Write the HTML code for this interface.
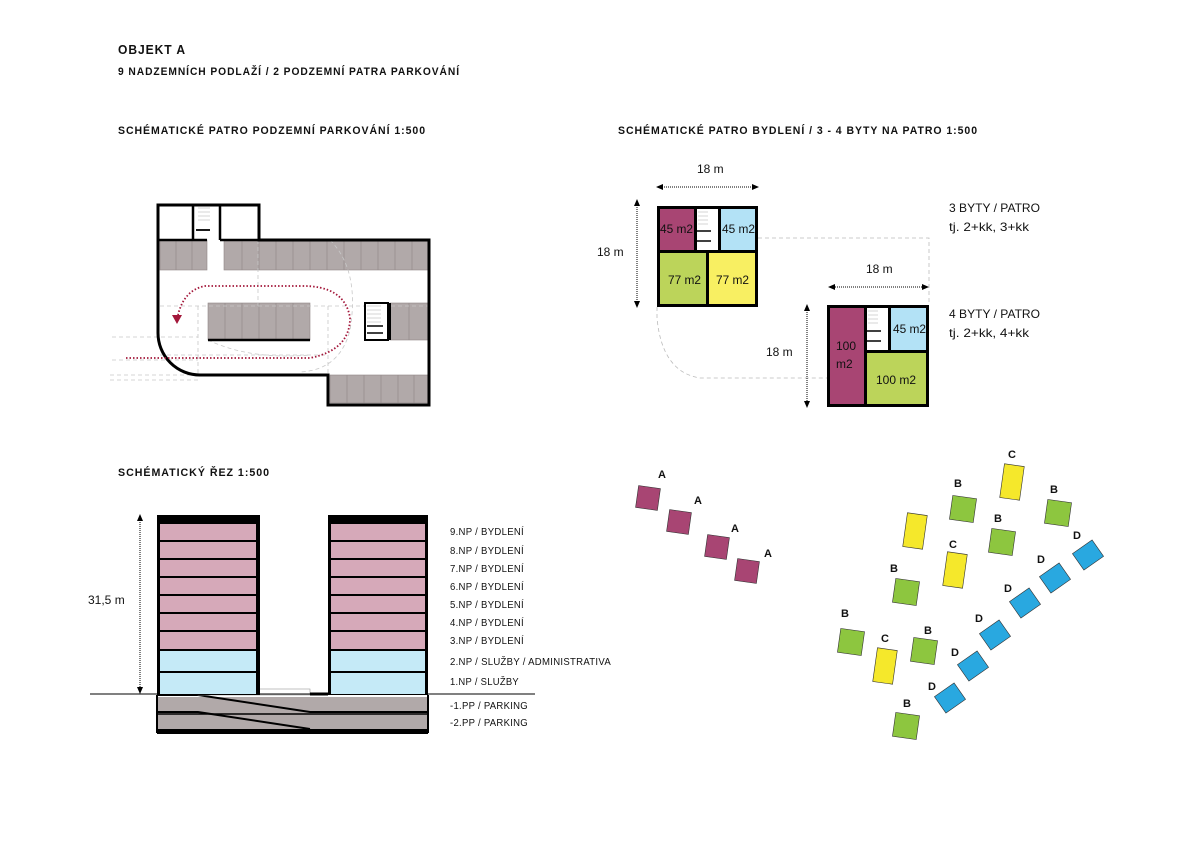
<!DOCTYPE html>
<html><head><meta charset="utf-8"><style>
body{margin:0;background:#fff}
svg{display:block}
text{font-family:"Liberation Sans Narrow","Liberation Sans",sans-serif;fill:#111}
.t{font-weight:bold;font-size:11px;letter-spacing:1px}
.l{font-size:10px;letter-spacing:.3px}
.m{font-size:12px}
.s{font-family:"Liberation Sans",sans-serif;font-weight:bold;font-size:11px}
</style></head><body>
<svg width="1191" height="842" viewBox="0 0 1191 842" xmlns="http://www.w3.org/2000/svg">
<rect width="1191" height="842" fill="#fff"/>
<!-- titles -->
<text class="t" x="118" y="54" textLength="68" lengthAdjust="spacingAndGlyphs" style="font-size:13px">OBJEKT A</text>
<text class="t" x="118" y="75" textLength="342" lengthAdjust="spacingAndGlyphs">9 NADZEMNÍCH PODLAŽÍ / 2 PODZEMNÍ PATRA PARKOVÁNÍ</text>
<text class="t" x="118" y="134" textLength="308" lengthAdjust="spacingAndGlyphs">SCHÉMATICKÉ PATRO PODZEMNÍ PARKOVÁNÍ   1:500</text>
<text class="t" x="618" y="134" textLength="360" lengthAdjust="spacingAndGlyphs">SCHÉMATICKÉ PATRO BYDLENÍ / 3 - 4 BYTY NA PATRO   1:500</text>
<text class="t" x="118" y="476" textLength="152" lengthAdjust="spacingAndGlyphs">SCHÉMATICKÝ ŘEZ   1:500</text>

<!-- parking plan -->
<g fill="#b1a9a9" stroke="#8f8787" stroke-width="0.6">
<rect x="160" y="240" width="47" height="30"/>
<rect x="224" y="240" width="204" height="30"/>
<rect x="208" y="303" width="102" height="37"/>
<rect x="390" y="303" width="38" height="37"/>
<rect x="330" y="375" width="98" height="28"/>
</g>
<g stroke="#8f8787" stroke-width="0.6">
<path d="M176 240v30M192 240v30M242 240v30M259 240v30M276 240v30M293 240v30M310 240v30M327 240v30M344 240v30M361 240v30M378 240v30M395 240v30M412 240v30"/>
<path d="M225 303v37M242 303v37M259 303v37M276 303v37M293 303v37M409 303v37"/>
<path d="M347 375v28M364 375v28M381 375v28M398 375v28M414 375v28"/>
</g>
<g stroke="#c8c8c8" stroke-width="0.8" stroke-dasharray="4,3" fill="none">
<path d="M112 337H198M112 360H198M110 375H210M110 380H200"/>
<path d="M160 306H428M160 355H328M258 240V306M328 306V403M198 306V375"/>
<path d="M208 340 Q250 360 310 355 M330 240 Q360 270 350 330 Q340 370 300 372"/>
</g>
<path d="M208 340H310" stroke="#000" stroke-width="2.5"/>
<rect x="365" y="303" width="23" height="37" fill="#fff" stroke="#000" stroke-width="2"/>
<path d="M367 306h14M367 310h14M367 314h14M367 318h14M367 322h14" stroke="#aaa" stroke-width="0.6"/>
<path d="M367 326h16M367 333h16" stroke="#000" stroke-width="1.6"/>
<path d="M390 303v37" stroke="#000" stroke-width="2"/>
<path d="M158 240V205H259V240H429V405H328V375H200A42 42 0 0 1 158 333V240Z" fill="none" stroke="#000" stroke-width="3"/>
<path d="M158 240H207M220 240H259M193 205V240M220 205V240" stroke="#000" stroke-width="2.5"/>
<path d="M198 208h12M198 212h12M198 216h12M198 220h12" stroke="#aaa" stroke-width="0.6"/>
<path d="M196 230h14" stroke="#000" stroke-width="1.8"/>
<path d="M126 358H310Q350 350 350 318Q345 285 300 286H205Q184 290 178 315" fill="none" stroke="#a3173a" stroke-width="1.8" stroke-dasharray="1.5,2"/>
<path d="M172 315l5 9 5-9z" fill="#a3173a"/>

<!-- apartments -->
<g stroke="#bbb" stroke-dasharray="4,3" fill="none" stroke-width="0.8">
<path d="M758 238H929V305"/>
<path d="M657 307V318Q662 372 700 378H827"/>
</g>
<rect x="657" y="206" width="101" height="101" fill="#000"/>
<rect x="660" y="209" width="34" height="41" fill="#a84573"/>
<rect x="697" y="209" width="21" height="41" fill="#fff"/>
<rect x="721" y="209" width="34" height="41" fill="#b3e2f6"/>
<rect x="660" y="253" width="46" height="51" fill="#bcd45a"/>
<rect x="709" y="253" width="46" height="51" fill="#f8ef62"/>
<path d="M698 212h10M698 216h10M698 220h10M698 224h10" stroke="#aaa" stroke-width="0.6"/>
<path d="M697 231h14M697 241h14" stroke="#000" stroke-width="1.6"/>
<text class="m" x="660" y="233" textLength="33" lengthAdjust="spacingAndGlyphs">45 m2</text>
<text class="m" x="722" y="233" textLength="33" lengthAdjust="spacingAndGlyphs">45 m2</text>
<text class="m" x="668" y="284" textLength="33" lengthAdjust="spacingAndGlyphs">77 m2</text>
<text class="m" x="716" y="284" textLength="33" lengthAdjust="spacingAndGlyphs">77 m2</text>

<rect x="827" y="305" width="102" height="102" fill="#000"/>
<rect x="830" y="308" width="34" height="96" fill="#a84573"/>
<rect x="867" y="308" width="21" height="42" fill="#fff"/>
<rect x="891" y="308" width="35" height="42" fill="#b3e2f6"/>
<rect x="867" y="353" width="59" height="51" fill="#bcd45a"/>
<path d="M868 311h10M868 315h10M868 319h10M868 323h10" stroke="#aaa" stroke-width="0.6"/>
<path d="M867 331h14M867 341h14" stroke="#000" stroke-width="1.6"/>
<text class="m" x="893" y="333" textLength="33" lengthAdjust="spacingAndGlyphs">45 m2</text>
<text class="m" x="836" y="350">100</text>
<text class="m" x="836" y="368">m2</text>
<text class="m" x="876" y="384" textLength="40" lengthAdjust="spacingAndGlyphs">100 m2</text>

<g stroke="#000" stroke-width="1" stroke-dasharray="1,1" fill="none">
<path d="M660 187H755M637 203V303M831 287H926M807 308V404"/>
</g>
<g fill="#000">
<path d="M656 187l7-3v6zM759 187l-7-3v6zM637 199l-3 7h6zM637 308l-3-7h6zM828 287l7-3v6zM929 287l-7-3v6zM807 304l-3 7h6zM807 408l-3-7h6z"/>
</g>
<text class="m" x="697" y="173">18 m</text>
<text class="m" x="597" y="256">18 m</text>
<text class="m" x="866" y="273">18 m</text>
<text class="m" x="766" y="356">18 m</text>
<text class="m" x="949" y="212" textLength="91" lengthAdjust="spacingAndGlyphs">3 BYTY / PATRO</text>
<text class="m" x="949" y="231" textLength="80" lengthAdjust="spacingAndGlyphs">tj. 2+kk, 3+kk</text>
<text class="m" x="949" y="318" textLength="91" lengthAdjust="spacingAndGlyphs">4 BYTY / PATRO</text>
<text class="m" x="949" y="337" textLength="80" lengthAdjust="spacingAndGlyphs">tj. 2+kk, 4+kk</text>

<!-- section -->
<rect x="157" y="697" width="271" height="36" fill="#b1a9a9"/>
<path d="M157 714H428" stroke="#000" stroke-width="1.5"/>
<path d="M157 695H198L310 712H428M157 712H198L310 729" stroke="#000" stroke-width="2" fill="none"/>
<rect x="198" y="689" width="112" height="6" fill="#fff" stroke="#999" stroke-width="0.6"/>
<rect x="157" y="729" width="271" height="5" fill="#000"/>
<path d="M157 695V733M428 695V733" stroke="#000" stroke-width="2"/>
<path d="M90 694H535" stroke="#000" stroke-width="1"/>
<path d="M310 694H328" stroke="#000" stroke-width="3"/>
<rect x="157" y="515" width="103" height="180" fill="#000"/>
<rect x="328" y="515" width="100" height="180" fill="#000"/>
<g fill="#d6a9b9">
<rect x="160" y="524" width="96" height="16"/><rect x="160" y="542" width="96" height="16"/><rect x="160" y="560" width="96" height="16"/><rect x="160" y="578" width="96" height="16"/><rect x="160" y="596" width="96" height="16"/><rect x="160" y="614" width="96" height="16"/><rect x="160" y="632" width="96" height="17"/>
<rect x="331" y="524" width="94" height="16"/><rect x="331" y="542" width="94" height="16"/><rect x="331" y="560" width="94" height="16"/><rect x="331" y="578" width="94" height="16"/><rect x="331" y="596" width="94" height="16"/><rect x="331" y="614" width="94" height="16"/><rect x="331" y="632" width="94" height="17"/>
</g>
<g fill="#c5eaf7">
<rect x="160" y="651" width="96" height="20"/><rect x="160" y="673" width="96" height="21"/>
<rect x="331" y="651" width="94" height="20"/><rect x="331" y="673" width="94" height="21"/>
</g>
<path d="M140 518V690" stroke="#000" stroke-width="1" stroke-dasharray="1,1"/>
<path d="M140 514l-3 7h6zM140 694l-3-7h6z" fill="#000"/>
<text class="m" x="88" y="604">31,5 m</text>
<text class="l" x="450" y="535" textLength="74" lengthAdjust="spacingAndGlyphs">9.NP / BYDLENÍ</text>
<text class="l" x="450" y="554" textLength="74" lengthAdjust="spacingAndGlyphs">8.NP / BYDLENÍ</text>
<text class="l" x="450" y="572" textLength="74" lengthAdjust="spacingAndGlyphs">7.NP / BYDLENÍ</text>
<text class="l" x="450" y="590" textLength="74" lengthAdjust="spacingAndGlyphs">6.NP / BYDLENÍ</text>
<text class="l" x="450" y="608" textLength="74" lengthAdjust="spacingAndGlyphs">5.NP / BYDLENÍ</text>
<text class="l" x="450" y="626" textLength="74" lengthAdjust="spacingAndGlyphs">4.NP / BYDLENÍ</text>
<text class="l" x="450" y="644" textLength="74" lengthAdjust="spacingAndGlyphs">3.NP / BYDLENÍ</text>
<text class="l" x="450" y="665" textLength="161" lengthAdjust="spacingAndGlyphs">2.NP / SLUŽBY / ADMINISTRATIVA</text>
<text class="l" x="450" y="685" textLength="69" lengthAdjust="spacingAndGlyphs">1.NP / SLUŽBY</text>
<text class="l" x="450" y="709" textLength="78" lengthAdjust="spacingAndGlyphs">-1.PP / PARKING</text>
<text class="l" x="450" y="726" textLength="78" lengthAdjust="spacingAndGlyphs">-2.PP / PARKING</text>

<!-- site plan -->
<g stroke="#333" stroke-width="0.6">
<g fill="#a84573">
<rect x="-11" y="-11" width="22" height="22" transform="translate(648,498) rotate(8)"/>
<rect x="-11" y="-11" width="22" height="22" transform="translate(679,522) rotate(8)"/>
<rect x="-11" y="-11" width="22" height="22" transform="translate(717,547) rotate(8)"/>
<rect x="-11" y="-11" width="22" height="22" transform="translate(747,571) rotate(8)"/>
</g>
<g fill="#8dc63f">
<rect x="-12" y="-12" width="24" height="24" transform="translate(963,509) rotate(8)"/>
<rect x="-12" y="-12" width="24" height="24" transform="translate(1058,513) rotate(8)"/>
<rect x="-12" y="-12" width="24" height="24" transform="translate(1002,542) rotate(8)"/>
<rect x="-12" y="-12" width="24" height="24" transform="translate(906,592) rotate(8)"/>
<rect x="-12" y="-12" width="24" height="24" transform="translate(851,642) rotate(8)"/>
<rect x="-12" y="-12" width="24" height="24" transform="translate(924,651) rotate(8)"/>
<rect x="-12" y="-12" width="24" height="24" transform="translate(906,726) rotate(8)"/>
</g>
<g fill="#f5e82b">
<rect x="-10" y="-17" width="20" height="34" transform="translate(1012,482) rotate(8)"/>
<rect x="-10" y="-17" width="20" height="34" transform="translate(915,531) rotate(8)"/>
<rect x="-10" y="-17" width="20" height="34" transform="translate(955,570) rotate(8)"/>
<rect x="-10" y="-17" width="20" height="34" transform="translate(885,666) rotate(8)"/>
</g>
<g fill="#29a8e0">
<rect x="-12" y="-10" width="24" height="20" transform="translate(1088,555) rotate(-35)"/>
<rect x="-12" y="-10" width="24" height="20" transform="translate(1055,578) rotate(-35)"/>
<rect x="-12" y="-10" width="24" height="20" transform="translate(1025,603) rotate(-35)"/>
<rect x="-12" y="-10" width="24" height="20" transform="translate(995,635) rotate(-35)"/>
<rect x="-12" y="-10" width="24" height="20" transform="translate(973,666) rotate(-35)"/>
<rect x="-12" y="-10" width="24" height="20" transform="translate(950,698) rotate(-35)"/>
</g>
</g>
<g text-anchor="middle">
<text class="s" x="662" y="478">A</text><text class="s" x="698" y="504">A</text><text class="s" x="735" y="532">A</text><text class="s" x="768" y="557">A</text>
<text class="s" x="958" y="487">B</text><text class="s" x="1054" y="493">B</text><text class="s" x="998" y="522">B</text><text class="s" x="894" y="572">B</text><text class="s" x="845" y="617">B</text><text class="s" x="928" y="634">B</text><text class="s" x="907" y="707">B</text>
<text class="s" x="1012" y="458">C</text><text class="s" x="953" y="548">C</text><text class="s" x="885" y="642">C</text>
<text class="s" x="1077" y="539">D</text><text class="s" x="1041" y="563">D</text><text class="s" x="1008" y="592">D</text><text class="s" x="979" y="622">D</text><text class="s" x="955" y="656">D</text><text class="s" x="932" y="690">D</text>
</g>
</svg>
</body></html>
